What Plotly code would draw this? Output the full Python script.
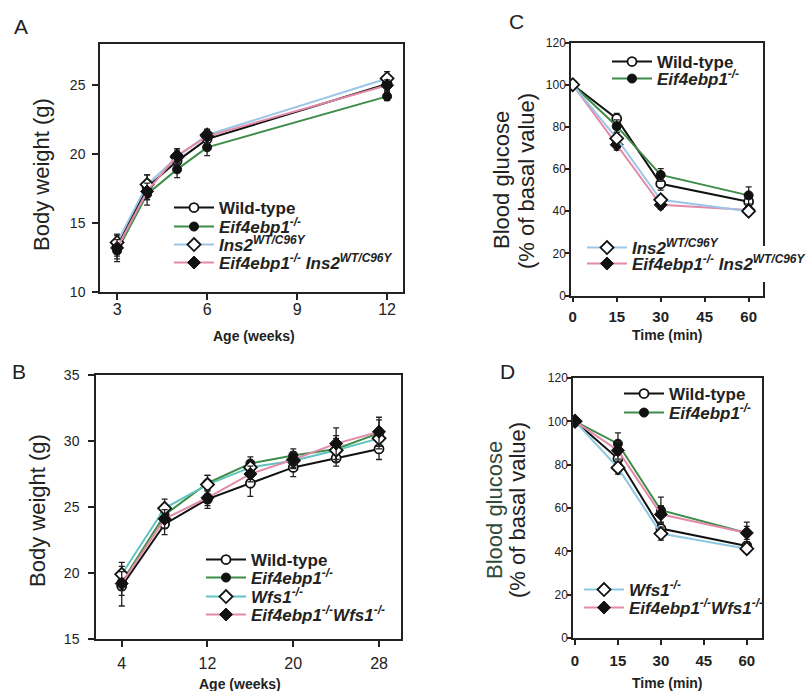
import plotly.graph_objects as go

W, H = 807, 691
FONT = "Arial, Liberation Sans, sans-serif"

# ---------------- data ----------------
age_a = [3, 4, 5, 6, 12]
wt_a = [13.3, 17.6, 19.5, 21.1, 25.1]
wt_a_err = [0.9, 0.9, 0.5, 0.5, 0.5]
eif_a = [13.0, 17.1, 18.9, 20.5, 24.2]
eif_a_err = [0.8, 0.8, 0.6, 0.6, 0.3]
ins_a = [13.6, 17.8, 19.8, 21.4, 25.5]
ins_a_err = [0.5, 0.7, 0.5, 0.4, 0.5]
dbl_a = [13.2, 17.3, 19.9, 21.3, 25.0]
dbl_a_err = [0.6, 0.6, 0.5, 0.5, 0.4]

age_b = [4, 8, 12, 16, 20, 24, 28]
wt_b = [19.0, 23.7, 25.6, 26.8, 28.0, 28.7, 29.4]
wt_b_err = [1.5, 0.8, 0.7, 1.0, 0.7, 0.6, 0.8]
eif_b = [19.3, 24.4, 26.8, 28.3, 28.9, 29.4, 30.6]
eif_b_err = [0.6, 0.6, 0.6, 0.5, 0.5, 1.0, 1.0]
wfs_b = [19.9, 24.9, 26.7, 28.0, 28.5, 29.3, 30.2]
wfs_b_err = [0.9, 0.7, 0.7, 0.5, 0.6, 0.9, 0.8]
dbl_b = [19.2, 24.1, 25.7, 27.5, 28.6, 29.8, 30.7]
dbl_b_err = [0.9, 0.7, 0.6, 0.6, 0.6, 1.2, 1.1]

time_c = [0, 15, 30, 60]
wt_c = [100, 83.9, 53.0, 44.5]
wt_c_err = [0, 2.5, 3, 3]
eif_c = [100, 80.3, 57.2, 47.5]
eif_c_err = [0, 3, 3, 4]
ins_c = [100, 74.5, 45.4, 40.0]
ins_c_err = [0, 3, 2, 2]
dbl_c = [100, 71.5, 43.0, 40.6]
dbl_c_err = [0, 2.5, 2, 2]

time_d = [0, 15, 30, 60]
wt_d = [100, 82.8, 50.5, 42.5]
wt_d_err = [0, 2.5, 3, 2]
eif_d = [100, 89.7, 59.0, 48.5]
eif_d_err = [0, 5, 6, 5]
wfs_d = [100, 78.6, 48.2, 41.2]
wfs_d_err = [0, 3, 3, 2]
dbl_d = [100, 86.6, 57.1, 48.5]
dbl_d_err = [0, 4, 4, 3]

lbl_wt = "<b>Wild-type</b>"
lbl_eif = "<b><i>Eif4ebp1<sup>-/-</sup></i></b>"
lbl_ins = "<b><i>Ins2<sup>WT/C96Y</sup></i></b>"
lbl_dbl_a = "<b><i>Eif4ebp1<sup>-/-</sup> Ins2<sup>WT/C96Y</sup></i></b>"
lbl_wfs = "<b><i>Wfs1<sup>-/-</sup></i></b>"
lbl_dbl_b = "<b><i>Eif4ebp1<sup>-/-</sup>Wfs1<sup>-/-</sup></i></b>"

# ---------------- styles ----------------
C_WT = "#111111"
C_EIF = "#3f8c48"
C_INS = "#9cc6e8"
C_WFS = "#5fc3c0"
C_WFS_D = "#8ec8e2"
C_DBL = "#e28aa8"

MK = {
    "wt": dict(symbol="circle", size=9, color="white", line=dict(color="#111", width=1.8)),
    "eif": dict(symbol="circle", size=9, color="#111", line=dict(color="#111", width=1)),
    "ins": dict(symbol="diamond", size=10, color="white", line=dict(color="#111", width=1.8)),
    "dbl": dict(symbol="diamond", size=10, color="#111", line=dict(color="#111", width=1)),
}

fig = go.Figure()


def add(x, y, err, name, color, mk, xa, ya, leg):
    fig.add_trace(go.Scatter(
        x=x, y=y, name=name, mode="lines+markers",
        line=dict(color=color, width=2),
        marker=MK[mk],
        error_y=dict(type="data", array=err, color="#222", thickness=1.3, width=3),
        xaxis=xa, yaxis=ya, legend=leg, showlegend=True,
    ))


add(age_a, wt_a, wt_a_err, lbl_wt, C_WT, "wt", "x", "y", "legend")
add(age_a, eif_a, eif_a_err, lbl_eif, C_EIF, "eif", "x", "y", "legend2")
add(age_a, ins_a, ins_a_err, lbl_ins, C_INS, "ins", "x", "y", "legend3")
add(age_a, dbl_a, dbl_a_err, lbl_dbl_a, C_DBL, "dbl", "x", "y", "legend4")

add(age_b, wt_b, wt_b_err, lbl_wt, C_WT, "wt", "x2", "y2", "legend5")
add(age_b, eif_b, eif_b_err, lbl_eif, C_EIF, "eif", "x2", "y2", "legend6")
add(age_b, wfs_b, wfs_b_err, lbl_wfs, C_WFS, "ins", "x2", "y2", "legend7")
add(age_b, dbl_b, dbl_b_err, lbl_dbl_b, C_DBL, "dbl", "x2", "y2", "legend8")

add(time_c, wt_c, wt_c_err, lbl_wt, C_WT, "wt", "x3", "y3", "legend9")
add(time_c, eif_c, eif_c_err, lbl_eif, C_EIF, "eif", "x3", "y3", "legend10")
add(time_c, dbl_c, dbl_c_err, lbl_dbl_a, C_DBL, "dbl", "x3", "y3", "legend11")
add(time_c, ins_c, ins_c_err, lbl_ins, C_INS, "ins", "x3", "y3", "legend12")

add(time_d, wt_d, wt_d_err, lbl_wt, C_WT, "wt", "x4", "y4", "legend13")
add(time_d, eif_d, eif_d_err, lbl_eif, C_EIF, "eif", "x4", "y4", "legend14")
add(time_d, wfs_d, wfs_d_err, lbl_wfs, C_WFS_D, "ins", "x4", "y4", "legend15")
add(time_d, dbl_d, dbl_d_err, lbl_dbl_b, C_DBL, "dbl", "x4", "y4", "legend16")


def px_x(a, b):
    return [a / W, b / W]


def px_y(top, bottom):
    return [1 - bottom / H, 1 - top / H]


def xax(dom, rng, tv, anchor, fsize, bold, standoff, tlen=6):
    return dict(domain=dom, range=rng, tickvals=tv, anchor=anchor,
                showline=True, linecolor="#222", linewidth=1.5, mirror=True,
                ticks="outside", ticklen=tlen, tickwidth=1.5, tickcolor="#222",
                showgrid=False, zeroline=False, ticklabelstandoff=standoff,
                tickfont=dict(family=FONT, size=fsize, color="#222",
                              weight="bold" if bold else "normal"))


def yax(dom, rng, tv, anchor, fsize, standoff, tlen=6):
    return dict(domain=dom, range=rng, tickvals=tv, anchor=anchor,
                showline=True, linecolor="#222", linewidth=1.5, mirror=True,
                ticks="outside", ticklen=tlen, tickwidth=1.5, tickcolor="#222",
                showgrid=False, zeroline=False, ticklabelstandoff=standoff,
                tickfont=dict(family=FONT, size=fsize, color="#222"))


layout = dict(
    width=W, height=H, margin=dict(l=0, r=0, t=0, b=0, autoexpand=False),
    paper_bgcolor="white", plot_bgcolor="white",
    font=dict(family=FONT, color="#222"),
    xaxis=xax(px_x(100, 403), [2.43, 12.53], [3, 6, 9, 12], "y", 16, False, -4),
    yaxis=yax(px_y(44, 292), [10, 28], [10, 15, 20, 25], "x", 14, 4),
    xaxis2=xax(px_x(96, 401), [1.6, 30.05], [4, 12, 20, 28], "y2", 16, False, 3),
    yaxis2=yax(px_y(375, 639), [15, 35], [15, 20, 25, 30, 35], "x2", 14, 6),
    xaxis3=xax(px_x(571, 763), [-0.6, 64.9], [0, 15, 30, 45, 60], "y3", 15, True, 2, 5),
    yaxis3=yax(px_y(42.5, 295.5), [0, 120], [0, 20, 40, 60, 80, 100, 120], "x3", 12, -3, 4),
    xaxis4=xax(px_x(573, 762), [-0.7, 65.3], [0, 15, 30, 45, 60], "y4", 15, True, 3, 5),
    yaxis4=yax(px_y(378, 638), [0, 120], [0, 20, 40, 60, 80, 100, 120], "x4", 12, -3, 4),
)

# legends: key -> (symbol start px, row centre px, opaque background)
leg_pos = {
    "legend": (174, 208, False), "legend2": (174, 227, False),
    "legend3": (174, 245, False), "legend4": (174, 263, False),
    "legend5": (206, 560, False), "legend6": (206, 578, False),
    "legend7": (206, 597, False), "legend8": (206, 615, False),
    "legend9": (612, 62, False), "legend10": (612, 79, False),
    "legend12": (587, 248, False), "legend11": (587, 264, True),
    "legend13": (624, 394, False), "legend14": (624, 413, False),
    "legend15": (584, 590, False), "legend16": (584, 608, False),
}
for key, (sx, sy, opaque) in leg_pos.items():
    layout[key] = dict(
        x=(sx - 5) / W, y=1 - sy / H, xanchor="left", yanchor="middle",
        bgcolor="white" if opaque else "rgba(0,0,0,0)", borderwidth=0, itemwidth=40,
        font=dict(family=FONT, size=17, color="#222"),
        itemclick=False, itemdoubleclick=False,
    )

fig.update_layout(**layout)

# ---------------- annotations ----------------
def ann(text, x, y, size, angle=0, color="#222", bold=False):
    fig.add_annotation(text=text, x=x / W, y=1 - y / H, xref="paper", yref="paper",
                       showarrow=False, textangle=angle, xanchor="center", yanchor="middle",
                       font=dict(family=FONT, size=size, color=color,
                                 weight="bold" if bold else "normal"))


ann("A", 21, 26, 21)
ann("B", 19, 371, 21)
ann("C", 516, 22, 21)
ann("D", 508, 371, 21)

ann("Body weight (g)", 41, 175, 22, -90)
ann("Body weight (g)", 37, 511, 22, -90)
ann("Blood glucose", 501, 180, 22, -90)
ann("(% of basal value)", 526, 181, 22, -90)
ann("Blood glucose", 494, 510, 22, -90, color="#2f4a3a")
ann("(% of basal value)", 517, 510, 22, -90)

ann("Age (weeks)", 254, 336, 14, bold=True)
ann("Age (weeks)", 240, 684, 14, bold=True)
ann("Time (min)", 667, 335, 14, bold=True)
ann("Time (min)", 667, 683, 14, bold=True)

fig.write_html("out.html", config={"displayModeBar": False},
               post_script="document.body.style.margin='0px';")
